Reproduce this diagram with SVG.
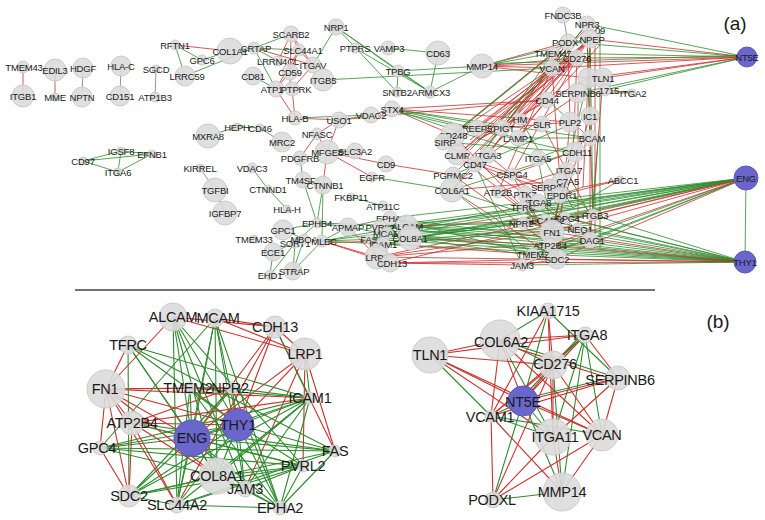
<svg xmlns="http://www.w3.org/2000/svg" width="765" height="520" viewBox="0 0 765 520">
<style>
.n{fill:#dcdcdc;stroke:#cbcbcb;stroke-width:1;fill-opacity:.9}
.b{fill:#6b66cb;stroke:#5b56bb;stroke-width:1}
.t{font-family:"Liberation Sans",Arial,sans-serif;font-size:9.5px;fill:#1a1a1a;text-anchor:middle;letter-spacing:-.2px}
.T{font-family:"Liberation Sans",Arial,sans-serif;font-size:14.5px;fill:#1a1a1a;text-anchor:middle;letter-spacing:-.3px}
.L{font-family:"Liberation Sans",Arial,sans-serif;font-size:19px;fill:#1a1a1a;text-anchor:middle}
.r{stroke:#c9302c;stroke-width:.8;fill:none}
.g{stroke:#2e8b2e;stroke-width:.8;fill:none}
.k{stroke:#8a8a8a;stroke-width:.9;fill:none}
.R{stroke:#c9302c;stroke-width:1.1;fill:none}
.G{stroke:#2e8b2e;stroke-width:1.1;fill:none}
</style>
<rect width="765" height="520" fill="#ffffff"/>
<g id="connectors">
<path class="r" d="M23 67L23 96"/><path class="r" d="M55 70L55 97"/><path class="k" d="M83 68L82 97"/><path class="k" d="M121 66L120 96"/><path class="k" d="M156 69L155 97"/>
<path class="g" d="M83 161L121 151"/><path class="g" d="M83 161L152 154"/><path class="g" d="M83 161L118 172"/><path class="g" d="M121 151L118 172"/><path class="g" d="M118 172L152 154"/><path class="g" d="M121 151L152 154"/>
<path class="r" d="M175 45L230 51"/><path class="g" d="M175 45L202 60"/><path class="g" d="M175 45L185 76"/><path class="g" d="M202 60L230 51"/><path class="g" d="M185 76L254 48"/><path class="g" d="M230 51L254 48"/>
<path class="g" d="M254 48L299 50"/><path class="g" d="M254 48L278 61"/><path class="g" d="M254 48L276 89"/><path class="g" d="M253 76L276 89"/><path class="g" d="M254 48L291 34"/>
<path class="r" d="M291 34L299 50"/><path class="r" d="M291 34L313 65"/><path class="r" d="M291 34L278 61"/><path class="r" d="M291 34L290 89"/><path class="r" d="M299 50L313 65"/><path class="r" d="M299 50L290 72"/><path class="r" d="M254 48L313 65"/>
<path class="g" d="M336 27L313 65"/><path class="g" d="M336 27L398 71"/><path class="g" d="M336 27L397 92"/><path class="g" d="M336 27L430 92"/>
<path class="r" d="M313 65L292 89"/><path class="r" d="M290 72L276 89"/><path class="r" d="M299 50L276 89"/><path class="r" d="M292 89L295 118"/><path class="r" d="M276 89L295 118"/>
<path class="g" d="M388 48L438 53"/><path class="g" d="M355 48L430 92"/><path class="g" d="M438 53L430 92"/><path class="g" d="M398 71L397 92"/><path class="g" d="M398 71L430 92"/><path class="g" d="M323 80L552 68"/>
<path class="r" d="M295 118L339 120"/><path class="g" d="M295 118L371 115"/><path class="g" d="M339 120L371 115"/><path class="g" d="M371 115L392 109"/><path class="r" d="M339 120L317 134"/><path class="r" d="M339 120L327 152"/><path class="r" d="M339 120L547 100"/>
<path class="g" d="M208 136L237 127"/><path class="g" d="M237 127L260 128"/><path class="g" d="M260 128L282 142"/>
<path class="r" d="M317 134L327 152"/><path class="r" d="M317 134L300 158"/><path class="g" d="M327 152L355 151"/><path class="r" d="M327 152L386 164"/><path class="r" d="M327 152L372 177"/><path class="r" d="M386 164L453 175"/><path class="g" d="M372 177L452 190"/>
<path class="g" d="M300 158L303 180"/><path class="g" d="M303 180L323 185"/><path class="g" d="M303 180L317 223"/><path class="g" d="M323 185L317 223"/><path class="g" d="M323 185L322 241"/><path class="r" d="M327 152L323 185"/><path class="g" d="M351 197L383 206"/>
<path class="k" d="M200 168L215 190"/><path class="k" d="M215 190L225 213"/><path class="g" d="M252 168L268 189"/><path class="g" d="M268 189L287 209"/>
<path class="g" d="M317 223L283 230"/><path class="g" d="M317 223L348 227"/><path class="g" d="M348 227L322 241"/><path class="g" d="M283 230L304 239"/><path class="g" d="M322 241L293 271"/><path class="g" d="M295 243L293 271"/><path class="g" d="M295 243L270 275"/><path class="g" d="M273 252L270 275"/><path class="g" d="M273 252L295 243"/><path class="g" d="M304 239L293 271"/><path class="g" d="M317 223L295 243"/>
<path class="g" d="M322 241L407 226"/><path class="g" d="M322 241L410 238"/><path class="g" d="M322 241L387 233"/><path class="g" d="M322 241L383 244"/><path class="r" d="M322 241L377 257"/><path class="r" d="M322 241L390 263"/><path class="g" d="M348 227L410 238"/><path class="g" d="M348 227L390 218"/><path class="r" d="M348 227L377 257"/><path class="g" d="M317 223L407 226"/><path class="r" d="M322 243L407 240"/>
<path class="g" d="M390 218L410 238"/><path class="g" d="M380 227L407 226"/><path class="r" d="M377 257L390 263"/><path class="r" d="M369 239L377 257"/><path class="g" d="M387 233L410 238"/><path class="r" d="M383 244L390 263"/><path class="g" d="M380 227L383 244"/>
<path class="g" d="M407 226L552 232"/><path class="g" d="M410 238L557 259"/><path class="g" d="M407 226L590 240"/><path class="g" d="M410 238L545 220"/><path class="g" d="M387 233L523 207"/><path class="g" d="M390 218L533 254"/><path class="g" d="M383 244L578 229"/><path class="r" d="M377 257L552 232"/><path class="r" d="M390 263L557 259"/><path class="r" d="M377 257L590 240"/><path class="r" d="M390 263L522 265"/><path class="g" d="M380 227L573 208"/><path class="r" d="M410 238L550 245"/><path class="g" d="M407 226L523 223"/><path class="g" d="M369 239L593 215"/><path class="r" d="M383 244L533 254"/><path class="g" d="M410 238L590 215"/><path class="r" d="M407 226L545 220"/>
<path class="g" d="M410 230L560 240" stroke-width="1.5"/><path class="g" d="M405 235L545 250" stroke-width="1.5"/><path class="g" d="M410 240L590 225" stroke-width="1.2"/>
<path class="r" d="M392 109L453 135"/><path class="g" d="M392 109L518 138"/><path class="g" d="M392 109L590 138"/><path class="g" d="M392 111L573 152"/><path class="r" d="M392 109L570 122"/><path class="g" d="M392 109L538 158"/><path class="r" d="M392 109L547 100"/><path class="g" d="M392 109L502 128"/>
<path class="r" d="M482 66L552 68"/><path class="g" d="M482 66L553 53"/><path class="r" d="M482 66L568 42"/><path class="g" d="M482 66L590 39"/><path class="r" d="M482 66L577 58"/><path class="r" d="M482 66L588 78"/><path class="g" d="M482 66L430 92"/><path class="g" d="M482 66L398 71"/><path class="g" d="M443 142L553 53"/><path class="k" d="M563 15L568 42"/>
<path class="r" d="M477 128L590 39"/><path class="r" d="M502 128L587 24"/><path class="r" d="M502 128L568 42"/><path class="r" d="M453 135L553 53"/><path class="r" d="M477 128L577 58"/><path class="r" d="M518 138L590 39"/><path class="r" d="M522 119L590 39"/><path class="r" d="M443 142L552 68"/><path class="r" d="M457 155L577 58"/><path class="r" d="M488 155L568 42"/><path class="r" d="M478 140L588 78"/><path class="r" d="M475 164L603 78"/><path class="g" d="M502 128L587 24"/><path class="g" d="M453 135L568 42"/><path class="r" d="M512 174L577 58"/><path class="r" d="M488 155L552 68"/><path class="r" d="M457 155L590 39"/><path class="g" d="M475 164L553 53"/><path class="r" d="M453 175L590 39"/><path class="r" d="M452 190L577 58"/><path class="g" d="M452 190L587 24"/><path class="r" d="M498 192L552 68"/><path class="r" d="M478 140L547 100"/><path class="r" d="M502 128L570 122"/>
<path class="r" d="M490 130L585 30" stroke-width="2"/><path class="r" d="M470 140L580 50" stroke-width="2"/><path class="r" d="M465 135L585 45" stroke-width="1.5"/><path class="r" d="M480 150L575 60" stroke-width="1.5"/><path class="r" d="M500 140L595 30"/><path class="g" d="M470 150L585 35"/><path class="r" d="M455 160L560 70"/><path class="r" d="M520 130L600 45" stroke-width="1.5"/>
<path class="r" d="M595 40L595 240" stroke-width="2.2"/><path class="g" d="M600 30L600 250"/><path class="r" d="M590 39L590 138"/><path class="r" d="M588 78L593 215"/><path class="r" d="M603 78L590 240"/><path class="r" d="M590 39L583 187"/><path class="r" d="M577 58L573 152"/><path class="r" d="M587 24L588 78"/><path class="r" d="M590 116L590 240"/><path class="r" d="M578 93L578 229"/><path class="g" d="M587 24L590 138"/><path class="g" d="M590 39L593 215"/><path class="r" d="M568 42L570 122"/><path class="r" d="M552 68L560 181"/>
<path class="g" d="M518 138L590 138"/><path class="g" d="M538 158L590 138"/><path class="r" d="M512 174L573 152"/><path class="r" d="M498 192L567 170"/><path class="g" d="M453 175L590 116"/><path class="r" d="M452 190L560 181"/><path class="g" d="M452 190L573 152"/><path class="r" d="M475 164L560 195"/><path class="r" d="M457 155L550 187"/><path class="g" d="M443 142L573 152"/><path class="r" d="M498 192L552 232"/><path class="r" d="M525 194L557 259"/><path class="g" d="M523 207L583 187"/><path class="r" d="M538 202L590 240"/><path class="g" d="M545 220L593 215"/><path class="r" d="M523 223L578 229"/><path class="g" d="M533 254L590 240"/><path class="r" d="M522 265L557 259"/><path class="r" d="M550 245L590 116"/><path class="g" d="M552 232L588 78"/><path class="r" d="M560 195L550 245"/><path class="g" d="M573 208L520 119"/><path class="r" d="M453 135L523 207"/><path class="r" d="M443 142L538 202"/><path class="r" d="M457 155L552 232"/><path class="g" d="M452 190L533 254"/><path class="r" d="M452 190L557 259"/><path class="g" d="M452 190L545 220"/><path class="r" d="M453 175L550 245"/><path class="g" d="M475 164L522 265"/><path class="r" d="M488 155L590 240"/><path class="r" d="M512 174L557 259"/><path class="g" d="M538 158L552 232"/><path class="r" d="M567 170L552 232"/><path class="g" d="M560 181L593 215"/><path class="r" d="M570 122L557 259"/><path class="g" d="M547 100L590 138"/><path class="r" d="M542 124L590 215"/><path class="g" d="M598 140L593 215"/>
<path class="r" d="M620 180L583 187"/><path class="g" d="M620 180L573 208"/><path class="r" d="M620 180L560 195"/><path class="g" d="M632 93L578 93"/><path class="r" d="M632 93L605 90"/>
<path class="g" d="M747 57L587 24"/><path class="r" d="M747 57L590 39"/><path class="g" d="M747 57L568 42"/><path class="g" d="M747 57L553 53"/><path class="r" d="M747 57L577 58"/><path class="r" d="M747 57L552 68"/><path class="r" d="M747 57L588 78"/><path class="r" d="M747 57L603 78"/><path class="g" d="M747 57L605 90"/><path class="g" d="M747 57L578 93"/><path class="r" d="M747 57L482 66"/><path class="g" d="M747 55L482 64"/>
<path class="g" d="M746 178L407 226"/><path class="g" d="M746 178L410 238"/><path class="g" d="M746 178L387 233"/><path class="g" d="M746 178L380 227"/><path class="g" d="M746 178L390 218"/><path class="g" d="M746 178L383 244"/><path class="g" d="M746 178L369 239"/><path class="r" d="M746 178L377 257"/><path class="r" d="M746 178L390 263"/><path class="r" d="M746 178L552 232"/><path class="g" d="M746 178L523 207"/><path class="g" d="M746 178L523 223"/><path class="g" d="M746 178L533 254"/><path class="g" d="M746 178L545 220"/><path class="r" d="M746 178L557 259"/><path class="g" d="M746 178L522 265"/><path class="r" d="M746 178L550 245"/><path class="g" d="M746 178L565 218"/><path class="r" d="M746 178L593 215"/><path class="g" d="M746 178L590 240"/><path class="g" d="M746 178L745 262"/>
<path class="g" d="M745 262L407 226"/><path class="g" d="M745 262L410 238"/><path class="g" d="M745 262L387 233"/><path class="g" d="M745 262L380 227"/><path class="g" d="M745 262L390 218"/><path class="g" d="M745 262L383 244"/><path class="g" d="M745 262L369 239"/><path class="r" d="M745 262L377 257"/><path class="r" d="M745 262L390 263"/><path class="r" d="M745 262L552 232"/><path class="g" d="M745 262L523 207"/><path class="g" d="M745 262L523 223"/><path class="g" d="M745 262L533 254"/><path class="g" d="M745 262L545 220"/><path class="r" d="M745 262L557 259"/><path class="g" d="M745 262L522 265"/><path class="r" d="M745 262L550 245"/><path class="g" d="M745 262L578 229"/><path class="g" d="M745 262L590 240"/><path class="g" d="M745 262L593 215"/><path class="g" d="M745 262L565 218"/>
<path class="G" d="M192 438L173 317"/><path class="G" d="M192 438L215 318"/><path class="R" d="M192 438L275 327"/><path class="G" d="M192 438L128 345"/><path class="R" d="M192 438L305 354"/><path class="R" d="M192 438L106 389"/><path class="G" d="M192 438L190 388"/><path class="G" d="M192 438L232 388"/><path class="G" d="M192 438L310 398"/><path class="R" d="M192 438L132 423"/><path class="G" d="M192 438L238 425"/><path class="G" d="M192 438L100 448"/><path class="G" d="M192 438L335 451"/><path class="G" d="M192 438L303 466"/><path class="G" d="M192 438L217 476"/><path class="G" d="M192 438L245 489"/><path class="G" d="M192 438L129 496"/><path class="G" d="M192 438L177 505"/><path class="G" d="M192 438L280 508"/>
<path class="G" d="M238 425L173 317"/><path class="G" d="M238 425L215 318"/><path class="R" d="M238 425L275 327"/><path class="G" d="M238 425L128 345"/><path class="R" d="M238 425L305 354"/><path class="R" d="M238 425L106 389"/><path class="G" d="M238 425L190 388"/><path class="G" d="M238 425L232 388"/><path class="G" d="M238 425L310 398"/><path class="R" d="M238 425L132 423"/><path class="G" d="M238 425L100 448"/><path class="G" d="M238 425L335 451"/><path class="G" d="M238 425L303 466"/><path class="G" d="M238 425L217 476"/><path class="G" d="M238 425L245 489"/><path class="G" d="M238 425L129 496"/><path class="G" d="M238 425L177 505"/><path class="G" d="M238 425L280 508"/>
<path class="R" d="M106 389L190 388" stroke-width="2"/><path class="R" d="M106 389L232 388"/><path class="R" d="M106 389L173 317"/><path class="R" d="M106 389L128 345"/><path class="R" d="M106 389L100 448"/><path class="R" d="M106 389L129 496"/><path class="R" d="M106 389L132 423"/><path class="R" d="M106 389L217 476"/><path class="R" d="M106 389L177 505"/><path class="R" d="M106 389L310 398"/>
<path class="R" d="M173 317L275 327"/><path class="R" d="M215 318L275 327"/><path class="R" d="M215 318L305 354"/><path class="R" d="M173 317L305 354"/><path class="R" d="M275 327L305 354"/><path class="R" d="M275 327L335 451"/><path class="R" d="M305 354L335 451"/><path class="R" d="M305 354L303 466"/><path class="G" d="M305 354L310 398"/><path class="G" d="M275 327L310 398"/><path class="R" d="M275 327L177 505"/><path class="R" d="M305 354L245 489"/>
<path class="G" d="M128 345L310 398"/><path class="G" d="M128 345L217 476"/><path class="G" d="M128 345L129 496"/><path class="G" d="M128 345L335 451"/>
<path class="G" d="M215 318L245 489"/><path class="G" d="M215 318L217 476"/><path class="G" d="M215 318L177 505"/><path class="G" d="M215 318L280 508"/><path class="G" d="M215 318L100 448"/><path class="G" d="M173 317L217 476"/><path class="G" d="M173 317L177 505"/><path class="G" d="M173 317L245 489"/><path class="G" d="M173 317L303 466"/>
<path class="G" d="M190 388L310 398"/><path class="R" d="M190 388L232 388"/><path class="G" d="M190 388L280 508"/><path class="G" d="M232 388L129 496"/><path class="G" d="M232 388L280 508"/><path class="G" d="M232 388L310 398"/>
<path class="G" d="M310 398L129 496"/><path class="G" d="M310 398L217 476"/><path class="G" d="M310 398L280 508"/><path class="G" d="M310 398L100 448"/><path class="G" d="M310 398L177 505"/><path class="G" d="M310 398L245 489"/>
<path class="R" d="M132 423L217 476" stroke-width="2"/><path class="R" d="M132 423L129 496"/><path class="R" d="M132 423L177 505"/><path class="R" d="M132 423L310 398"/><path class="R" d="M132 423L232 388"/><path class="G" d="M132 423L303 466"/><path class="G" d="M132 423L335 451"/>
<path class="G" d="M100 448L335 451"/><path class="R" d="M100 448L129 496"/><path class="G" d="M100 448L303 466"/><path class="G" d="M100 448L217 476"/>
<path class="G" d="M335 451L177 505"/><path class="G" d="M335 451L129 496"/><path class="G" d="M335 451L280 508"/>
<path class="G" d="M303 466L177 505"/><path class="G" d="M303 466L129 496"/><path class="G" d="M303 466L280 508"/><path class="G" d="M303 466L217 476"/><path class="G" d="M303 466L245 489"/>
<path class="G" d="M217 476L280 508"/><path class="G" d="M217 476L245 489"/><path class="G" d="M217 476L129 496"/><path class="G" d="M177 505L280 508"/><path class="G" d="M129 496L177 505"/><path class="G" d="M245 489L280 508"/><path class="G" d="M177 505L190 388"/>
<path class="R" d="M430 355L500 340"/><path class="R" d="M430 355L585 335"/><path class="R" d="M430 355L553 365"/><path class="G" d="M430 355L491 416"/><path class="R" d="M430 355L602 435"/><path class="R" d="M430 355L523 401"/><path class="R" d="M430 355L553 437"/>
<path class="G" d="M548 311L500 340"/><path class="G" d="M548 311L523 401"/><path class="R" d="M548 311L491 416"/><path class="R" d="M548 311L553 437" stroke-width="1.6"/><path class="G" d="M548 311L618 378"/><path class="R" d="M548 311L553 365"/>
<path class="R" d="M585 335L500 340"/><path class="R" d="M585 335L523 401"/><path class="G" d="M583 333L521 399"/><path class="R" d="M585 335L491 416"/><path class="R" d="M585 335L618 378"/><path class="G" d="M585 335L602 435"/><path class="G" d="M585 335L553 437"/><path class="G" d="M585 335L553 365"/><path class="G" d="M585 335L562 492"/>
<path class="G" d="M500 340L618 378"/><path class="R" d="M500 340L523 401"/><path class="R" d="M500 340L491 416"/><path class="G" d="M500 340L553 437"/><path class="R" d="M500 340L602 435"/><path class="G" d="M500 340L553 365"/><path class="R" d="M500 343L618 381"/>
<path class="R" d="M553 365L523 401"/><path class="R" d="M553 365L553 437" stroke-width="1.8"/><path class="G" d="M553 365L562 492"/><path class="R" d="M553 365L491 416"/><path class="R" d="M553 365L602 435"/><path class="R" d="M553 365L493 500"/>
<path class="R" d="M618 378L523 401"/><path class="G" d="M618 376L523 399"/><path class="R" d="M618 378L491 416"/><path class="R" d="M618 378L553 437"/><path class="R" d="M618 378L602 435"/>
<path class="R" d="M523 401L602 435"/><path class="G" d="M523 401L553 437"/><path class="G" d="M523 401L562 492"/><path class="G" d="M523 401L493 500"/><path class="G" d="M523 401L491 416"/>
<path class="G" d="M491 416L553 437"/><path class="G" d="M491 416L602 435"/><path class="R" d="M491 416L562 492"/><path class="R" d="M491 416L493 500"/>
<path class="R" d="M553 437L493 500"/><path class="R" d="M602 435L493 500"/><path class="R" d="M602 435L562 492"/><path class="G" d="M562 492L493 500"/><path class="R" d="M553 437L562 492"/>
</g>
<line x1="75" y1="290" x2="655" y2="290" stroke="#444" stroke-width="1.5"/>
<text class="L" x="735" y="30">(a)</text>
<text class="L" x="718" y="328">(b)</text>
<g id="a-TMEM43"><circle class="n" cx="23" cy="67" r="6"/><text class="t" x="24" y="71">TMEM43</text></g>
<g id="a-ITGB1"><circle class="n" cx="23" cy="96" r="11"/><text class="t" x="23" y="100">ITGB1</text></g>
<g id="a-EDIL3"><circle class="n" cx="55" cy="70" r="11"/><text class="t" x="55" y="74">EDIL3</text></g>
<g id="a-MME"><circle class="n" cx="55" cy="97" r="4"/><text class="t" x="55" y="101">MME</text></g>
<g id="a-HDGF"><circle class="n" cx="83" cy="68" r="10"/><text class="t" x="83" y="72">HDGF</text></g>
<g id="a-NPTN"><circle class="n" cx="82" cy="97" r="10"/><text class="t" x="82" y="101">NPTN</text></g>
<g id="a-HLA-C"><circle class="n" cx="121" cy="66" r="10"/><text class="t" x="121" y="70">HLA-C</text></g>
<g id="a-CD151"><circle class="n" cx="120" cy="96" r="10"/><text class="t" x="120" y="100">CD151</text></g>
<g id="a-SGCD"><circle class="n" cx="156" cy="69" r="4"/><text class="t" x="156" y="73">SGCD</text></g>
<g id="a-ATP1B3"><circle class="n" cx="155" cy="97" r="5"/><text class="t" x="155" y="101">ATP1B3</text></g>
<g id="a-RFTN1"><circle class="n" cx="175" cy="45" r="5"/><text class="t" x="175" y="49">RFTN1</text></g>
<g id="a-COL1A1"><circle class="n" cx="230" cy="51" r="13"/><text class="t" x="230" y="55">COL1A1</text></g>
<g id="a-GPC6"><circle class="n" cx="202" cy="60" r="5"/><text class="t" x="202" y="64">GPC6</text></g>
<g id="a-LRRC59"><circle class="n" cx="185" cy="76" r="10"/><text class="t" x="187" y="80">LRRC59</text></g>
<g id="a-CRTAP"><circle class="n" cx="254" cy="48" r="6"/><text class="t" x="256" y="52">CRTAP</text></g>
<g id="a-CD81"><circle class="n" cx="253" cy="76" r="9"/><text class="t" x="253" y="80">CD81</text></g>
<g id="a-SCARB2"><circle class="n" cx="291" cy="34" r="8"/><text class="t" x="291" y="38">SCARB2</text></g>
<g id="a-NRP1"><circle class="n" cx="336" cy="27" r="8"/><text class="t" x="336" y="31">NRP1</text></g>
<g id="a-SLC44A1"><circle class="n" cx="299" cy="50" r="6"/><text class="t" x="303" y="54">SLC44A1</text></g>
<g id="a-LRRN4CL"><circle class="n" cx="278" cy="61" r="5"/><text class="t" x="278" y="65">LRRN4CL</text></g>
<g id="a-ITGAV"><circle class="n" cx="313" cy="65" r="8"/><text class="t" x="313" y="69">ITGAV</text></g>
<g id="a-CD59"><circle class="n" cx="290" cy="72" r="8"/><text class="t" x="290" y="76">CD59</text></g>
<g id="a-ATP1B1"><circle class="n" cx="276" cy="89" r="8"/><text class="t" x="272" y="93">ATP1</text></g>
<g id="a-PTPRK"><circle class="n" cx="292" cy="89" r="7"/><text class="t" x="296" y="93">PTPRK</text></g>
<g id="a-ITGB5"><circle class="n" cx="323" cy="80" r="11"/><text class="t" x="323" y="84">ITGB5</text></g>
<g id="a-PTPRS"><circle class="n" cx="355" cy="48" r="5"/><text class="t" x="355" y="52">PTPRS</text></g>
<g id="a-VAMP3"><circle class="n" cx="388" cy="48" r="7"/><text class="t" x="389" y="52">VAMP3</text></g>
<g id="a-CD63"><circle class="n" cx="438" cy="53" r="12"/><text class="t" x="438" y="57">CD63</text></g>
<g id="a-TPBG"><circle class="n" cx="398" cy="71" r="6"/><text class="t" x="398" y="75">TPBG</text></g>
<g id="a-SNTB2"><circle class="n" cx="397" cy="92" r="5"/><text class="t" x="397" y="96">SNTB2</text></g>
<g id="a-ARMCX3"><circle class="n" cx="430" cy="92" r="6"/><text class="t" x="431" y="96">ARMCX3</text></g>
<g id="a-MMP14"><circle class="n" cx="482" cy="66" r="12"/><text class="t" x="482" y="70">MMP14</text></g>
<g id="a-STX4"><circle class="n" cx="392" cy="109" r="8"/><text class="t" x="392" y="113">STX4</text></g>
<g id="a-VDAC2"><circle class="n" cx="371" cy="115" r="8"/><text class="t" x="371" y="119">VDAC2</text></g>
<g id="a-USO1"><circle class="n" cx="339" cy="120" r="8"/><text class="t" x="339" y="124">USO1</text></g>
<g id="a-HLA-B"><circle class="n" cx="295" cy="118" r="7"/><text class="t" x="295" y="122">HLA-B</text></g>
<g id="a-NFASC"><circle class="n" cx="317" cy="134" r="6"/><text class="t" x="317" y="138">NFASC</text></g>
<g id="a-MXRA8"><circle class="n" cx="208" cy="136" r="12"/><text class="t" x="208" y="140">MXRA8</text></g>
<g id="a-HEPH"><circle class="n" cx="237" cy="127" r="4"/><text class="t" x="237" y="131">HEPH</text></g>
<g id="a-CD46"><circle class="n" cx="260" cy="128" r="4"/><text class="t" x="260" y="132">CD46</text></g>
<g id="a-MRC2"><circle class="n" cx="282" cy="142" r="10"/><text class="t" x="282" y="146">MRC2</text></g>
<g id="a-MFGE8"><circle class="n" cx="327" cy="152" r="12"/><text class="t" x="327" y="156">MFGE8</text></g>
<g id="a-SLC3A2"><circle class="n" cx="355" cy="151" r="8"/><text class="t" x="355" y="155">SLC3A2</text></g>
<g id="a-PDGFRB"><circle class="n" cx="300" cy="158" r="7"/><text class="t" x="300" y="162">PDGFRB</text></g>
<g id="a-CD9"><circle class="n" cx="386" cy="164" r="8"/><text class="t" x="386" y="168">CD9</text></g>
<g id="a-EGFR"><circle class="n" cx="372" cy="177" r="5"/><text class="t" x="372" y="181">EGFR</text></g>
<g id="a-KIRREL"><circle class="n" cx="200" cy="168" r="4"/><text class="t" x="200" y="172">KIRREL</text></g>
<g id="a-TGFBI"><circle class="n" cx="215" cy="190" r="12"/><text class="t" x="215" y="194">TGFBI</text></g>
<g id="a-IGFBP7"><circle class="n" cx="225" cy="213" r="12"/><text class="t" x="225" y="217">IGFBP7</text></g>
<g id="a-VDAC3"><circle class="n" cx="252" cy="168" r="5"/><text class="t" x="252" y="172">VDAC3</text></g>
<g id="a-CTNND1"><circle class="n" cx="268" cy="189" r="4"/><text class="t" x="268" y="193">CTNND1</text></g>
<g id="a-HLA-H"><circle class="n" cx="287" cy="209" r="4"/><text class="t" x="287" y="213">HLA-H</text></g>
<g id="a-TM4SF1"><circle class="n" cx="303" cy="180" r="8"/><text class="t" x="303" y="184">TM4SF1</text></g>
<g id="a-CTNNB1"><circle class="n" cx="323" cy="185" r="9"/><text class="t" x="325" y="189">CTNNB1</text></g>
<g id="a-FKBP11"><circle class="n" cx="351" cy="197" r="4"/><text class="t" x="351" y="201">FKBP11</text></g>
<g id="a-ATP11C"><circle class="n" cx="383" cy="206" r="5"/><text class="t" x="383" y="210">ATP11C</text></g>
<g id="a-EPHB4"><circle class="n" cx="317" cy="223" r="5"/><text class="t" x="317" y="227">EPHB4</text></g>
<g id="a-APMAP"><circle class="n" cx="348" cy="227" r="9"/><text class="t" x="348" y="231">APMAP</text></g>
<g id="a-GPC1"><circle class="n" cx="283" cy="230" r="10"/><text class="t" x="283" y="234">GPC1</text></g>
<g id="a-TMEM33"><circle class="n" cx="254" cy="239" r="4"/><text class="t" x="254" y="243">TMEM33</text></g>
<g id="a-SORT1"><circle class="n" cx="295" cy="243" r="5"/><text class="t" x="295" y="247">SORT1</text></g>
<g id="a-MBOAT"><circle class="n" cx="304" cy="239" r="5"/><text class="t" x="304" y="243">MBOA</text></g>
<g id="a-MLEC"><circle class="n" cx="322" cy="241" r="6"/><text class="t" x="324" y="245">MLEC</text></g>
<g id="a-ECE1"><circle class="n" cx="273" cy="252" r="9"/><text class="t" x="273" y="256">ECE1</text></g>
<g id="a-EHD1"><circle class="n" cx="270" cy="275" r="5"/><text class="t" x="270" y="279">EHD1</text></g>
<g id="a-STRAP"><circle class="n" cx="293" cy="271" r="9"/><text class="t" x="294" y="275">STRAP</text></g>
<g id="a-EPHA2"><circle class="n" cx="390" cy="218" r="7"/><text class="t" x="391" y="222">EPHA2</text></g>
<g id="a-PVRL2"><circle class="n" cx="380" cy="227" r="7"/><text class="t" x="380" y="231">PVRL2</text></g>
<g id="a-ALCAM"><circle class="n" cx="407" cy="226" r="11"/><text class="t" x="407" y="230">ALCAM</text></g>
<g id="a-MCAM"><circle class="n" cx="387" cy="233" r="6"/><text class="t" x="387" y="237">MCAM</text></g>
<g id="a-COL8A1"><circle class="n" cx="410" cy="238" r="12"/><text class="t" x="410" y="242">COL8A1</text></g>
<g id="a-FAS"><circle class="n" cx="369" cy="239" r="5"/><text class="t" x="369" y="243">FAS</text></g>
<g id="a-ICAM1"><circle class="n" cx="383" cy="244" r="7"/><text class="t" x="383" y="248">ICAM1</text></g>
<g id="a-LRP1"><circle class="n" cx="377" cy="257" r="12"/><text class="t" x="377" y="261">LRP1</text></g>
<g id="a-CDH13"><circle class="n" cx="390" cy="263" r="9"/><text class="t" x="392" y="267">CDH13</text></g>
<g id="a-CD97"><circle class="n" cx="83" cy="161" r="4"/><text class="t" x="83" y="165">CD97</text></g>
<g id="a-IGSF8"><circle class="n" cx="121" cy="151" r="4"/><text class="t" x="121" y="155">IGSF8</text></g>
<g id="a-EFNB1"><circle class="n" cx="152" cy="154" r="4"/><text class="t" x="152" y="158">EFNB1</text></g>
<g id="a-ITGA6"><circle class="n" cx="118" cy="172" r="4"/><text class="t" x="118" y="176">ITGA6</text></g>
<g id="a-FNDC3B"><circle class="n" cx="563" cy="15" r="8"/><text class="t" x="563" y="19">FNDC3B</text></g>
<g id="a-NPR3"><circle class="n" cx="587" cy="24" r="8"/><text class="t" x="587" y="28">NPR3</text></g>
<g id="a-09"><text class="t" x="600" y="34">09</text></g>
<g id="a-PODXL"><circle class="n" cx="568" cy="42" r="8"/><text class="t" x="565" y="46">PODX</text></g>
<g id="a-ANPEP"><circle class="n" cx="590" cy="39" r="9"/><text class="t" x="592" y="43">NPEP</text></g>
<g id="a-TMEM47"><circle class="n" cx="553" cy="53" r="6"/><text class="t" x="553" y="57">TMEM47</text></g>
<g id="a-CD276"><circle class="n" cx="577" cy="58" r="8"/><text class="t" x="577" y="62">CD276</text></g>
<g id="a-VCAN"><circle class="n" cx="552" cy="68" r="8"/><text class="t" x="552" y="72">VCAN</text></g>
<g id="a-ITGA11"><circle class="n" cx="588" cy="78" r="10"/></g>
<g id="a-TLN1"><circle class="n" cx="603" cy="78" r="10"/><text class="t" x="603" y="82">TLN1</text></g>
<g id="a-KIAA1715"><circle class="n" cx="605" cy="90" r="6"/><text class="t" x="609" y="94">1715</text></g>
<g id="a-ITGA2"><circle class="n" cx="632" cy="93" r="4"/><text class="t" x="633" y="97">ITGA2</text></g>
<g id="a-SERPINB6"><circle class="n" cx="578" cy="93" r="10"/><text class="t" x="578" y="97">SERPINB6</text></g>
<g id="a-CD44"><circle class="n" cx="547" cy="100" r="8"/><text class="t" x="547" y="104">CD44</text></g>
<g id="a-IC1"><circle class="n" cx="590" cy="116" r="9"/><text class="t" x="590" y="120">IC1</text></g>
<g id="a-PLP2"><circle class="n" cx="570" cy="122" r="10"/><text class="t" x="570" y="126">PLP2</text></g>
<g id="a-HM"><circle class="n" cx="520" cy="119" r="6"/><text class="t" x="520" y="123">HM</text></g>
<g id="a-SLR"><circle class="n" cx="542" cy="124" r="8"/><text class="t" x="542" y="128">SLR</text></g>
<g id="a-REEP5"><circle class="n" cx="477" cy="128" r="8"/><text class="t" x="477" y="132">REEP5</text></g>
<g id="a-PIGT"><circle class="n" cx="502" cy="128" r="8"/><text class="t" x="504" y="132">PIGT</text></g>
<g id="a-CD248"><circle class="n" cx="453" cy="135" r="12"/><text class="t" x="453" y="139">CD248</text></g>
<g id="a-SIRPA"><circle class="n" cx="443" cy="142" r="8"/><text class="t" x="445" y="146">SIRP</text></g>
<g id="a-LAMP1"><circle class="n" cx="518" cy="138" r="8"/><text class="t" x="518" y="142">LAMP1</text></g>
<g id="a-BCAM"><circle class="n" cx="590" cy="138" r="8"/><text class="t" x="592" y="142">BCAM</text></g>
<g id="a-CDH11"><circle class="n" cx="575" cy="152" r="10"/><text class="t" x="577" y="156">CDH11</text></g>
<g id="a-CLMP"><circle class="n" cx="457" cy="155" r="10"/><text class="t" x="457" y="159">CLMP</text></g>
<g id="a-ITGA3"><circle class="n" cx="488" cy="155" r="8"/><text class="t" x="488" y="159">ITGA3</text></g>
<g id="a-CD47"><circle class="n" cx="475" cy="164" r="8"/><text class="t" x="475" y="168">CD47</text></g>
<g id="a-PGRMC2"><circle class="n" cx="453" cy="175" r="8"/><text class="t" x="453" y="179">PGRMC2</text></g>
<g id="a-COL6A1"><circle class="n" cx="452" cy="190" r="12"/><text class="t" x="452" y="194">COL6A1</text></g>
<g id="a-ITGA5"><circle class="n" cx="538" cy="158" r="8"/><text class="t" x="538" y="162">ITGA5</text></g>
<g id="a-ITGA7"><circle class="n" cx="567" cy="170" r="8"/><text class="t" x="569" y="174">ITGA7</text></g>
<g id="a-CSPG4"><circle class="n" cx="512" cy="174" r="6"/><text class="t" x="512" y="178">CSPG4</text></g>
<g id="a-SLC7A5"><circle class="n" cx="560" cy="181" r="8"/><text class="t" x="562" y="185">SLC7A5</text></g>
<g id="a-SERPINE1"><circle class="n" cx="550" cy="187" r="8"/><text class="t" x="548" y="191">SERPIN</text></g>
<g id="a-ATP2B1"><circle class="n" cx="498" cy="192" r="6"/><text class="t" x="498" y="196">ATP2B</text></g>
<g id="a-PTK7"><circle class="n" cx="525" cy="194" r="8"/><text class="t" x="525" y="198">PTK7</text></g>
<g id="a-EPDR1"><circle class="n" cx="560" cy="195" r="8"/><text class="t" x="562" y="199">EPDR1</text></g>
<g id="a-ITGA8"><circle class="n" cx="538" cy="202" r="8"/><text class="t" x="538" y="206">ITGA8</text></g>
<g id="a-TFRC"><circle class="n" cx="523" cy="207" r="6"/><text class="t" x="523" y="211">TFRC</text></g>
<g id="a-ITGB3"><circle class="n" cx="593" cy="215" r="6"/><text class="t" x="595" y="219">ITGB3</text></g>
<g id="a-GPC4"><circle class="n" cx="565" cy="218" r="6"/><text class="t" x="567" y="222">GPC4</text></g>
<g id="a-SLC44A2"><circle class="n" cx="545" cy="220" r="6"/><text class="t" x="545" y="224">SLC44A2</text></g>
<g id="a-NPR2"><circle class="n" cx="523" cy="223" r="6"/><text class="t" x="521" y="227">NPR2</text></g>
<g id="a-FN1"><circle class="n" cx="552" cy="232" r="12"/><text class="t" x="552" y="236">FN1</text></g>
<g id="a-NEO1"><circle class="n" cx="578" cy="229" r="6"/><text class="t" x="580" y="233">NEO1</text></g>
<g id="a-DAG1"><circle class="n" cx="590" cy="240" r="8"/><text class="t" x="592" y="244">DAG1</text></g>
<g id="a-ATP2B4"><circle class="n" cx="550" cy="245" r="7"/><text class="t" x="550" y="249">ATP2B4</text></g>
<g id="a-TMEM2"><circle class="n" cx="533" cy="254" r="6"/><text class="t" x="533" y="258">TMEM2</text></g>
<g id="a-SDC2"><circle class="n" cx="557" cy="259" r="10"/><text class="t" x="557" y="263">SDC2</text></g>
<g id="a-JAM3"><circle class="n" cx="522" cy="265" r="6"/><text class="t" x="522" y="269">JAM3</text></g>
<g id="a-ABCC1"><circle class="n" cx="620" cy="180" r="4"/><text class="t" x="623" y="184">ABCC1</text></g>
<g id="a-NT5E"><circle class="b" cx="747" cy="57" r="10"/><text class="t" x="747" y="61">NT5E</text></g>
<g id="a-ENG"><circle class="b" cx="746" cy="178" r="12"/><text class="t" x="746" y="182">ENG</text></g>
<g id="a-THY1"><circle class="b" cx="745" cy="262" r="11"/><text class="t" x="745" y="266">THY1</text></g>
<g id="b-ALCAM"><circle class="n" cx="173" cy="317" r="14"/><text class="T" x="173" y="322">ALCAM</text></g>
<g id="b-MCAM"><circle class="n" cx="215" cy="318" r="9"/><text class="T" x="218" y="323">MCAM</text></g>
<g id="b-CDH13"><circle class="n" cx="275" cy="327" r="11"/><text class="T" x="275" y="332">CDH13</text></g>
<g id="b-TFRC"><circle class="n" cx="128" cy="345" r="9"/><text class="T" x="128" y="350">TFRC</text></g>
<g id="b-LRP1"><circle class="n" cx="305" cy="354" r="16"/><text class="T" x="305" y="359">LRP1</text></g>
<g id="b-FN1"><circle class="n" cx="106" cy="389" r="19"/><text class="T" x="105" y="394">FN1</text></g>
<g id="b-TMEM2"><circle class="n" cx="190" cy="388" r="6"/><text class="T" x="188" y="393">TMEM2</text></g>
<g id="b-NPR2"><circle class="n" cx="232" cy="388" r="6"/><text class="T" x="230" y="393">NPR2</text></g>
<g id="b-ICAM1"><circle class="n" cx="310" cy="398" r="6"/><text class="T" x="310" y="403">ICAM1</text></g>
<g id="b-ATP2B4"><circle class="n" cx="132" cy="423" r="12"/><text class="T" x="132" y="428">ATP2B4</text></g>
<g id="b-GPC4"><circle class="n" cx="100" cy="448" r="7"/><text class="T" x="97" y="453">GPC4</text></g>
<g id="b-FAS"><circle class="n" cx="335" cy="451" r="6"/><text class="T" x="335" y="456">FAS</text></g>
<g id="b-PVRL2"><circle class="n" cx="303" cy="466" r="6"/><text class="T" x="303" y="471">PVRL2</text></g>
<g id="b-COL8A1"><circle class="n" cx="217" cy="476" r="18"/><text class="T" x="217" y="481">COL8A1</text></g>
<g id="b-JAM3"><circle class="n" cx="245" cy="489" r="8"/><text class="T" x="245" y="494">JAM3</text></g>
<g id="b-SDC2"><circle class="n" cx="129" cy="496" r="11"/><text class="T" x="129" y="501">SDC2</text></g>
<g id="b-SLC44A2"><circle class="n" cx="177" cy="505" r="8"/><text class="T" x="177" y="510">SLC44A2</text></g>
<g id="b-EPHA2"><circle class="n" cx="280" cy="508" r="7"/><text class="T" x="280" y="513">EPHA2</text></g>
<g id="b-ENG"><circle class="b" cx="192" cy="438" r="18"/><text class="T" x="192" y="443">ENG</text></g>
<g id="b-THY1"><circle class="b" cx="238" cy="425" r="16"/><text class="T" x="238" y="430">THY1</text></g>
<g id="b-KIAA1715"><circle class="n" cx="548" cy="311" r="8"/><text class="T" x="548" y="316">KIAA1715</text></g>
<g id="b-ITGA8"><circle class="n" cx="585" cy="335" r="8"/><text class="T" x="587" y="340">ITGA8</text></g>
<g id="b-COL6A2"><circle class="n" cx="500" cy="340" r="20"/><text class="T" x="501" y="347">COL6A2</text></g>
<g id="b-TLN1"><circle class="n" cx="430" cy="355" r="18"/><text class="T" x="430" y="360">TLN1</text></g>
<g id="b-CD276"><circle class="n" cx="553" cy="365" r="14"/><text class="T" x="555" y="369">CD276</text></g>
<g id="b-SERPINB6"><circle class="n" cx="618" cy="378" r="12"/><text class="T" x="620" y="385">SERPINB6</text></g>
<g id="b-NT5E"><circle class="b" cx="523" cy="401" r="15"/><text class="T" x="523" y="407">NT5E</text></g>
<g id="b-VCAM1"><circle class="n" cx="491" cy="416" r="6"/><text class="T" x="490" y="422">VCAM1</text></g>
<g id="b-ITGA11"><circle class="n" cx="553" cy="437" r="18"/><text class="T" x="555" y="442">ITGA11</text></g>
<g id="b-VCAN"><circle class="n" cx="602" cy="435" r="16"/><text class="T" x="602" y="440">VCAN</text></g>
<g id="b-MMP14"><circle class="n" cx="562" cy="492" r="19"/><text class="T" x="562" y="497">MMP14</text></g>
<g id="b-PODXL"><circle class="n" cx="493" cy="500" r="8"/><text class="T" x="492" y="505">PODXL</text></g>
</svg>
